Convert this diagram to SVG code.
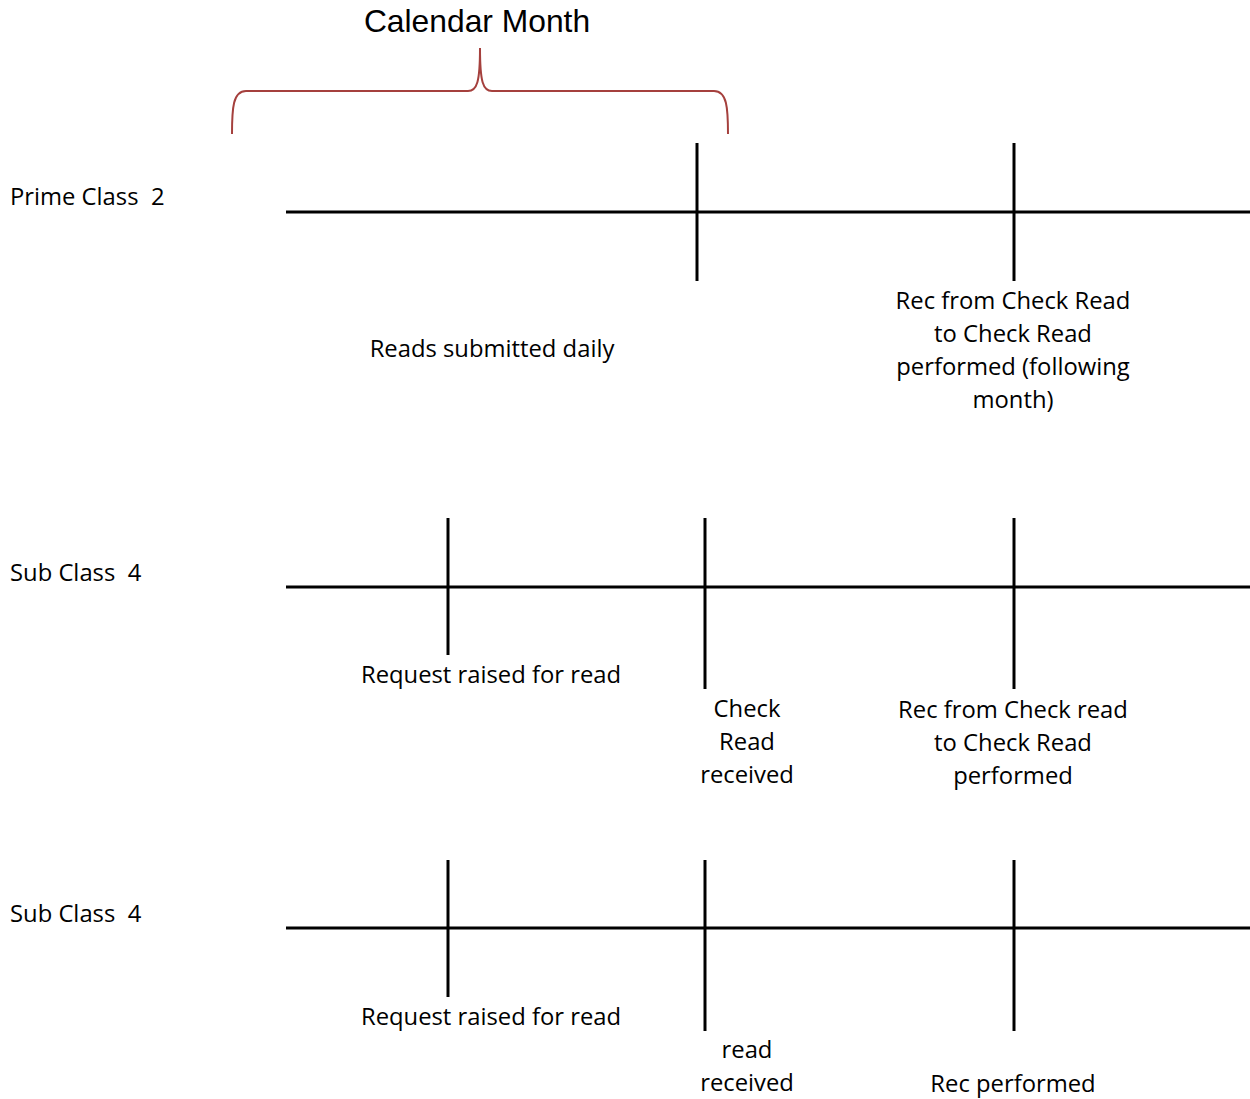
<svg xmlns="http://www.w3.org/2000/svg" width="1250" height="1099" viewBox="0 0 1250 1099">
<style>
.t{font-family:"Open Sans","Noto Sans",sans-serif;font-size:23.8px;fill:#000}
.c{text-anchor:middle}
.title{font-family:"Liberation Sans",Arial,sans-serif;font-size:31.8px;fill:#000;text-anchor:middle}
.axis{stroke:#000;stroke-width:3;fill:none}
.tick{stroke:#000;stroke-width:3;fill:none}
.brace{stroke:#A5403D;stroke-width:2;fill:none}
</style>
<rect width="1250" height="1099" fill="#fff"/>
<g id="title">
<text class="title" x="477" y="32">Calendar Month</text>
<path class="brace" d="M232,134 C232,108 233,91 246,91 L468,91 C477,91 480,82 480,48 C480,82 483,91 492,91 L714,91 C727,91 728,108 728,134"/>
</g>
<g id="connectors">
<line class="axis" x1="286" y1="212" x2="1250" y2="212"/>
<line class="tick" x1="697" y1="143" x2="697" y2="281" stroke-width="2"/>
<line class="tick" x1="1014" y1="143" x2="1014" y2="281"/>
<line class="axis" x1="286" y1="587" x2="1250" y2="587"/>
<line class="tick" x1="448" y1="518" x2="448" y2="655"/>
<line class="tick" x1="705" y1="518" x2="705" y2="689"/>
<line class="tick" x1="1014" y1="518" x2="1014" y2="689"/>
<line class="axis" x1="286" y1="928" x2="1250" y2="928"/>
<line class="tick" x1="448" y1="860" x2="448" y2="997"/>
<line class="tick" x1="705" y1="860" x2="705" y2="1031"/>
<line class="tick" x1="1014" y1="860" x2="1014" y2="1031"/>
</g>
<g id="prime">
<text class="t" x="10" y="205" xml:space="preserve">Prime Class  2</text>
<text class="t c" x="492" y="357">Reads submitted daily</text>
<text class="t c" x="1013" y="309">Rec from Check Read</text>
<text class="t c" x="1013" y="342">to Check Read</text>
<text class="t c" x="1013" y="375">performed (following</text>
<text class="t c" x="1013" y="408">month)</text>
</g>
<g id="sub1">
<text class="t" x="10" y="581" xml:space="preserve">Sub Class  4</text>
<text class="t c" x="491" y="683">Request raised for read</text>
<text class="t c" x="747" y="717">Check</text>
<text class="t c" x="747" y="750">Read</text>
<text class="t c" x="747" y="783">received</text>
<text class="t c" x="1013" y="718">Rec from Check read</text>
<text class="t c" x="1013" y="751">to Check Read</text>
<text class="t c" x="1013" y="784">performed</text>
</g>
<g id="sub2">
<text class="t" x="10" y="922" xml:space="preserve">Sub Class  4</text>
<text class="t c" x="491" y="1025">Request raised for read</text>
<text class="t c" x="747" y="1058">read</text>
<text class="t c" x="747" y="1091">received</text>
<text class="t c" x="1013" y="1092">Rec performed</text>
</g>
</svg>
